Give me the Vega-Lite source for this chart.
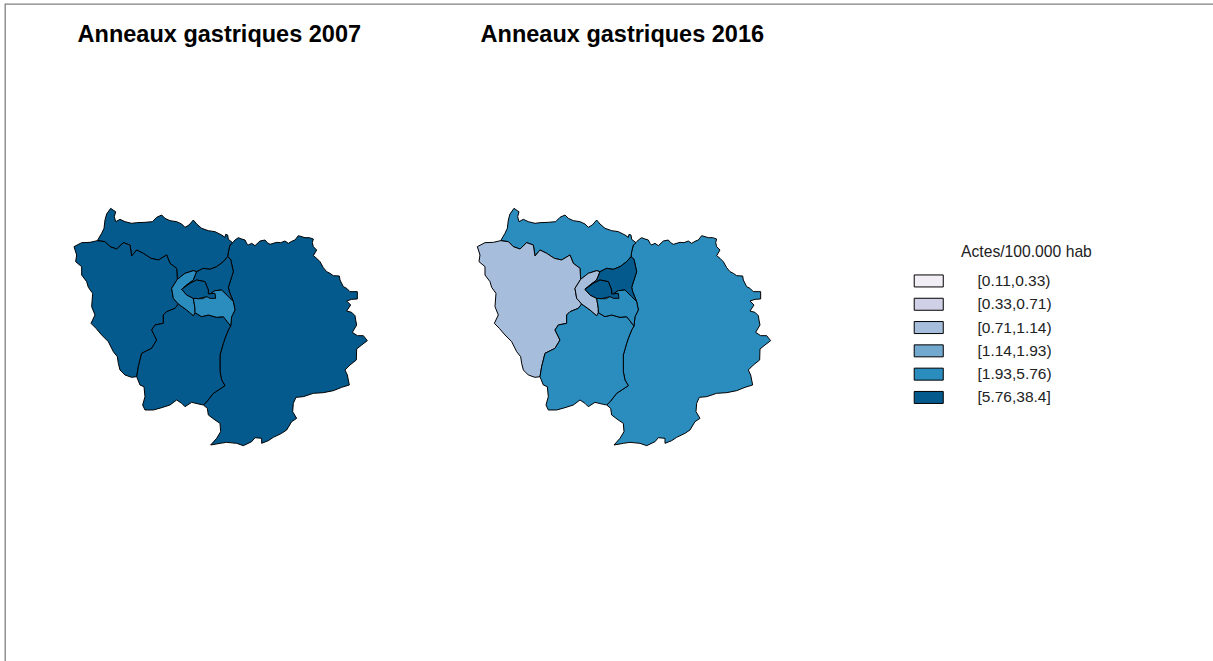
{"$schema":"https://vega.github.io/schema/vega-lite/v6.json","width":1213,"height":662,"padding":{"left":5,"top":4,"right":-5,"bottom":-5},"autosize":{"type":"none"},"background":"white","view":{"stroke":"#808080","strokeWidth":1.3},"config":{"font":"Liberation Sans"},
"datasets":{"depts":[
{"type":"Feature","properties":{"year":2007,"dept":"77","cls":"[5.76,38.4]"},"geometry":{"type":"Polygon","coordinates":[[[518,128],[525,120],[535,113],[545,117],[555,120],[560,130],[565,135],[575,130],[585,137],[600,123],[615,120],[622,128],[630,133],[650,127],[662,128],[675,123],[685,130],[695,124],[705,120],[715,107],[735,113],[748,113],[760,117],[757,128],[760,140],[770,150],[760,167],[770,175],[780,185],[790,203],[800,215],[810,220],[820,227],[838,228],[840,240],[850,260],[860,265],[870,275],[892,275],[892,297],[875,298],[860,303],[872,315],[860,333],[875,337],[885,347],[887,360],[890,375],[877,397],[892,407],[910,407],[922,422],[905,435],[890,447],[889,480],[870,495],[855,510],[862,525],[868,555],[845,562],[820,572],[790,578],[760,580],[730,590],[708,592],[700,610],[698,635],[710,655],[695,665],[680,690],[665,700],[640,712],[625,722],[605,730],[605,715],[585,713],[575,725],[550,737],[530,730],[500,727],[480,730],[452,735],[470,715],[482,695],[480,670],[465,660],[445,645],[442,625],[430,615],[442,603],[460,580],[495,557],[485,540],[480,515],[480,465],[490,430],[495,415],[505,390],[512,378],[515,350],[525,330],[520,305],[508,275],[505,262],[520,215],[512,178],[503,170],[505,155],[510,135],[518,128]]]}},
{"type":"Feature","properties":{"year":2007,"dept":"95","cls":"[5.76,38.4]"},"geometry":{"type":"Polygon","coordinates":[[[112,122],[125,100],[132,85],[135,60],[140,42],[152,25],[162,32],[167,35],[163,50],[167,65],[180,58],[195,65],[215,70],[230,68],[255,67],[277,65],[290,52],[305,45],[315,55],[330,62],[350,65],[365,72],[375,82],[387,75],[400,60],[410,72],[425,85],[445,92],[465,95],[485,105],[495,112],[497,103],[503,105],[505,118],[518,128],[510,135],[505,155],[503,170],[490,185],[470,200],[450,208],[430,205],[410,215],[400,212],[375,220],[352,238],[350,205],[330,190],[320,165],[295,180],[273,175],[250,160],[230,150],[215,168],[210,135],[190,128],[170,147],[150,140],[135,125],[112,122]]]}},
{"type":"Feature","properties":{"year":2007,"dept":"78","cls":"[5.76,38.4]"},"geometry":{"type":"Polygon","coordinates":[[[230,530],[215,532],[195,525],[180,510],[175,490],[172,470],[160,455],[145,425],[125,405],[108,385],[93,370],[105,345],[95,320],[98,280],[85,262],[80,245],[65,225],[65,200],[47,185],[50,165],[42,140],[65,128],[90,127],[112,122],[135,125],[150,140],[170,147],[190,128],[210,135],[215,168],[230,150],[250,160],[273,175],[295,180],[320,165],[330,190],[350,205],[352,238],[335,265],[340,295],[355,312],[345,325],[320,335],[310,345],[310,370],[285,375],[275,390],[290,420],[275,445],[245,460],[235,500],[230,530]]]}},
{"type":"Feature","properties":{"year":2007,"dept":"91","cls":"[5.76,38.4]"},"geometry":{"type":"Polygon","coordinates":[[[430,615],[420,613],[395,607],[375,620],[365,610],[350,600],[330,615],[305,623],[280,630],[255,630],[248,615],[255,590],[252,560],[240,555],[230,530],[235,500],[245,460],[275,445],[290,420],[275,390],[285,375],[310,370],[310,345],[320,335],[345,325],[355,312],[380,330],[400,347],[405,338],[425,350],[445,345],[470,352],[490,350],[512,378],[505,390],[495,415],[490,430],[480,465],[480,515],[485,540],[495,557],[460,580],[442,603],[430,615]]]}},
{"type":"Feature","properties":{"year":2007,"dept":"92","cls":"[1.93,5.76)"},"geometry":{"type":"Polygon","coordinates":[[[352,238],[375,220],[400,212],[410,215],[400,240],[380,255],[365,268],[380,285],[400,295],[405,325],[405,338],[400,347],[380,330],[355,312],[340,295],[335,265],[352,238]]]}},
{"type":"Feature","properties":{"year":2007,"dept":"93","cls":"[5.76,38.4]"},"geometry":{"type":"Polygon","coordinates":[[[503,170],[512,178],[520,215],[505,262],[508,275],[520,305],[505,290],[485,270],[465,272],[445,285],[445,270],[435,245],[410,240],[390,250],[365,268],[380,255],[400,240],[410,215],[430,205],[450,208],[470,200],[490,185],[503,170]]]}},
{"type":"Feature","properties":{"year":2007,"dept":"94","cls":"[1.93,5.76)"},"geometry":{"type":"Polygon","coordinates":[[[400,295],[415,296],[430,296],[445,285],[465,272],[485,270],[505,290],[520,305],[525,330],[515,350],[512,378],[490,350],[470,352],[445,345],[425,350],[405,338],[405,325],[400,295]]]}},
{"type":"Feature","properties":{"year":2007,"dept":"75","cls":"[5.76,38.4]"},"geometry":{"type":"Polygon","coordinates":[[[365,268],[390,250],[410,240],[435,245],[445,270],[445,282],[465,280],[467,295],[450,295],[440,290],[415,296],[400,295],[380,285],[365,268]]]}},
{"type":"Feature","properties":{"year":2016,"dept":"77","cls":"[1.93,5.76)"},"geometry":{"type":"Polygon","coordinates":[[[1728,128],[1735,120],[1745,113],[1755,117],[1765,120],[1770,130],[1775,135],[1785,130],[1795,137],[1810,123],[1825,120],[1832,128],[1840,133],[1860,127],[1872,128],[1885,123],[1895,130],[1905,124],[1915,120],[1925,107],[1945,113],[1958,113],[1970,117],[1967,128],[1970,140],[1980,150],[1970,167],[1980,175],[1990,185],[2000,203],[2010,215],[2020,220],[2030,227],[2048,228],[2050,240],[2060,260],[2070,265],[2080,275],[2102,275],[2102,297],[2085,298],[2070,303],[2082,315],[2070,333],[2085,337],[2095,347],[2097,360],[2100,375],[2087,397],[2102,407],[2120,407],[2132,422],[2115,435],[2100,447],[2099,480],[2080,495],[2065,510],[2072,525],[2078,555],[2055,562],[2030,572],[2000,578],[1970,580],[1940,590],[1918,592],[1910,610],[1908,635],[1920,655],[1905,665],[1890,690],[1875,700],[1850,712],[1835,722],[1815,730],[1815,715],[1795,713],[1785,725],[1760,737],[1740,730],[1710,727],[1690,730],[1662,735],[1680,715],[1692,695],[1690,670],[1675,660],[1655,645],[1652,625],[1640,615],[1652,603],[1670,580],[1705,557],[1695,540],[1690,515],[1690,465],[1700,430],[1705,415],[1715,390],[1722,378],[1725,350],[1735,330],[1730,305],[1718,275],[1715,262],[1730,215],[1722,178],[1713,170],[1715,155],[1720,135],[1728,128]]]}},
{"type":"Feature","properties":{"year":2016,"dept":"95","cls":"[1.93,5.76)"},"geometry":{"type":"Polygon","coordinates":[[[1322,122],[1335,100],[1342,85],[1345,60],[1350,42],[1362,25],[1372,32],[1377,35],[1373,50],[1377,65],[1390,58],[1405,65],[1425,70],[1440,68],[1465,67],[1487,65],[1500,52],[1515,45],[1525,55],[1540,62],[1560,65],[1575,72],[1585,82],[1597,75],[1610,60],[1620,72],[1635,85],[1655,92],[1675,95],[1695,105],[1705,112],[1707,103],[1713,105],[1715,118],[1728,128],[1720,135],[1715,155],[1713,170],[1700,185],[1680,200],[1660,208],[1640,205],[1620,215],[1610,212],[1585,220],[1562,238],[1560,205],[1540,190],[1530,165],[1505,180],[1483,175],[1460,160],[1440,150],[1425,168],[1420,135],[1400,128],[1380,147],[1360,140],[1345,125],[1322,122]]]}},
{"type":"Feature","properties":{"year":2016,"dept":"78","cls":"[0.71,1.14)"},"geometry":{"type":"Polygon","coordinates":[[[1440,530],[1425,532],[1405,525],[1390,510],[1385,490],[1382,470],[1370,455],[1355,425],[1335,405],[1318,385],[1303,370],[1315,345],[1305,320],[1308,280],[1295,262],[1290,245],[1275,225],[1275,200],[1257,185],[1260,165],[1252,140],[1275,128],[1300,127],[1322,122],[1345,125],[1360,140],[1380,147],[1400,128],[1420,135],[1425,168],[1440,150],[1460,160],[1483,175],[1505,180],[1530,165],[1540,190],[1560,205],[1562,238],[1545,265],[1550,295],[1565,312],[1555,325],[1530,335],[1520,345],[1520,370],[1495,375],[1485,390],[1500,420],[1485,445],[1455,460],[1445,500],[1440,530]]]}},
{"type":"Feature","properties":{"year":2016,"dept":"91","cls":"[1.93,5.76)"},"geometry":{"type":"Polygon","coordinates":[[[1640,615],[1630,613],[1605,607],[1585,620],[1575,610],[1560,600],[1540,615],[1515,623],[1490,630],[1465,630],[1458,615],[1465,590],[1462,560],[1450,555],[1440,530],[1445,500],[1455,460],[1485,445],[1500,420],[1485,390],[1495,375],[1520,370],[1520,345],[1530,335],[1555,325],[1565,312],[1590,330],[1610,347],[1615,338],[1635,350],[1655,345],[1680,352],[1700,350],[1722,378],[1715,390],[1705,415],[1700,430],[1690,465],[1690,515],[1695,540],[1705,557],[1670,580],[1652,603],[1640,615]]]}},
{"type":"Feature","properties":{"year":2016,"dept":"92","cls":"[0.71,1.14)"},"geometry":{"type":"Polygon","coordinates":[[[1562,238],[1585,220],[1610,212],[1620,215],[1610,240],[1590,255],[1575,268],[1590,285],[1610,295],[1615,325],[1615,338],[1610,347],[1590,330],[1565,312],[1550,295],[1545,265],[1562,238]]]}},
{"type":"Feature","properties":{"year":2016,"dept":"93","cls":"[5.76,38.4]"},"geometry":{"type":"Polygon","coordinates":[[[1713,170],[1722,178],[1730,215],[1715,262],[1718,275],[1730,305],[1715,290],[1695,270],[1675,272],[1655,285],[1655,270],[1645,245],[1620,240],[1600,250],[1575,268],[1590,255],[1610,240],[1620,215],[1640,205],[1660,208],[1680,200],[1700,185],[1713,170]]]}},
{"type":"Feature","properties":{"year":2016,"dept":"94","cls":"[1.93,5.76)"},"geometry":{"type":"Polygon","coordinates":[[[1610,295],[1625,296],[1640,296],[1655,285],[1675,272],[1695,270],[1715,290],[1730,305],[1735,330],[1725,350],[1722,378],[1700,350],[1680,352],[1655,345],[1635,350],[1615,338],[1615,325],[1610,295]]]}},
{"type":"Feature","properties":{"year":2016,"dept":"75","cls":"[5.76,38.4]"},"geometry":{"type":"Polygon","coordinates":[[[1575,268],[1600,250],[1620,240],[1645,245],[1655,270],[1655,282],[1675,280],[1677,295],[1660,295],[1650,290],[1625,296],[1610,295],[1590,285],[1575,268]]]}}
]},
"projection":{"type":"identity","scale":0.33333,"translate":[55,196]},
"layer":[
{"data":{"name":"depts"},"mark":{"type":"geoshape","stroke":"#000","strokeWidth":1},"encoding":{"color":{"field":"properties.cls","type":"nominal","scale":{"domain":["[0.11,0.33)","[0.33,0.71)","[0.71,1.14)","[1.14,1.93)","[1.93,5.76)","[5.76,38.4]"],"range":["#f1eef6","#d0d1e6","#a6bddb","#74a9cf","#2b8cbe","#045a8d"]},"legend":{"title":"Actes/100.000 hab","orient":"none","legendX":866,"legendY":241,"titleFont":"Liberation Sans","titleFontSize":15.7,"titleFontWeight":"normal","titleColor":"#222","titleAnchor":"middle","titleAlign":"left","titlePadding":12.5,"labelFont":"Liberation Sans","labelFontSize":15.5,"labelColor":"#222","labelOffset":91,"rowPadding":5.3,"symbolType":"M5.91,-1H10.75V1H5.91Z","symbolSize":144,"symbolStrokeColor":"#000","symbolStrokeWidth":1,"symbolOpacity":1}}}},
{"data":{"values":[{"map_x":478,"map_y":-474,"label":"Anneaux gastriques 2007"},{"map_x":1687,"map_y":-474,"label":"Anneaux gastriques 2016"}]},"mark":{"type":"text","font":"Liberation Sans","fontSize":23.5,"fontWeight":"bold","align":"center","baseline":"alphabetic","color":"#000"},"encoding":{"longitude":{"field":"map_x","type":"quantitative"},"latitude":{"field":"map_y","type":"quantitative"},"text":{"field":"label"}}}
]}
